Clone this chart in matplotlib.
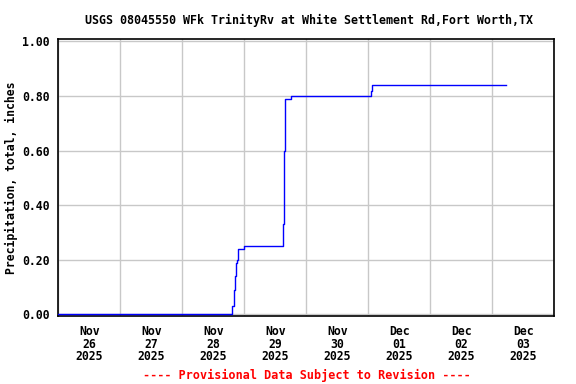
import matplotlib
matplotlib.use('Agg')
import matplotlib.pyplot as plt
import matplotlib.dates as mdates
import matplotlib.ticker as mticker
import pandas as pd

# precipitation, cumulative total (inches)
times = ['2025-11-26 00:00', '2025-11-28 19:20', '2025-11-28 19:55',
         '2025-11-28 20:15', '2025-11-28 20:55', '2025-11-28 21:20',
         '2025-11-28 21:40', '2025-11-28 23:45', '2025-11-29 15:05',
         '2025-11-29 15:25', '2025-11-29 15:50', '2025-11-29 18:05',
         '2025-12-01 00:55', '2025-12-01 01:25', '2025-12-03 05:10']
precip = [0.00, 0.03, 0.09, 0.14, 0.19, 0.20, 0.24, 0.25, 0.33,
          0.60, 0.79, 0.80, 0.82, 0.84, 0.84]

title = 'USGS 08045550 WFk TrinityRv at White Settlement Rd,Fort Worth,TX'
ylabel = 'Precipitation, total, inches'
footer = '---- Provisional Data Subject to Revision ----'
xstart = '2025-11-26 00:00'
xend = '2025-12-04 00:00'

font = 'DejaVu Sans Mono'
fs = 8.3

fig = plt.figure(figsize=(5.76, 3.84), dpi=100)
ax = fig.add_axes([58.3/576, 1-316/384, 496/576, (316-39.3)/384])

t = pd.to_datetime(times)
ax.plot(t, precip, drawstyle='steps-post', color='#0000ff', linewidth=1.0, zorder=3)

ax.set_xlim(pd.Timestamp(xstart), pd.Timestamp(xend))
ax.set_ylim(-0.0055, 1.008)

# labels at noon, grid lines at midnight
ax.xaxis.set_major_locator(mdates.HourLocator(byhour=[12]))
ax.xaxis.set_major_formatter(mdates.DateFormatter('%b\n%d\n%Y'))
ax.xaxis.set_minor_locator(mdates.DayLocator())
ax.yaxis.set_major_locator(mticker.MultipleLocator(0.2))
ax.yaxis.set_major_formatter(mticker.FormatStrFormatter('%.2f'))

ax.grid(False)
ax.grid(True, which='minor', axis='x', color='#c8c8c8', linewidth=1.0)
ax.grid(True, which='major', axis='y', color='#c8c8c8', linewidth=1.0)
ax.set_axisbelow(True)

ax.tick_params(axis='both', which='both', length=0)
ax.tick_params(axis='x', pad=6.5)
ax.tick_params(axis='y', pad=6)
for lab in ax.get_xticklabels():
    lab.set_fontfamily(font)
    lab.set_fontweight('bold')
    lab.set_fontsize(fs)
    lab.set_linespacing(0.95)
for lab in ax.get_yticklabels():
    lab.set_fontfamily(font)
    lab.set_fontweight('bold')
    lab.set_fontsize(fs)

for sp in ax.spines.values():
    sp.set_color('black')
    sp.set_linewidth(1.2)

ax.set_ylabel(ylabel, fontfamily=font, fontweight='bold', fontsize=fs)
ax.yaxis.set_label_coords(-0.081, 0.5)

fig.text(0.537, 1-20/384, title, ha='center', va='center',
         fontfamily=font, fontweight='bold', fontsize=8.35)
fig.text(0.532, 1-375/384, footer, ha='center', va='center', color='red',
         fontfamily=font, fontweight='bold', fontsize=8.5)

fig.savefig('out.png', dpi=100)
